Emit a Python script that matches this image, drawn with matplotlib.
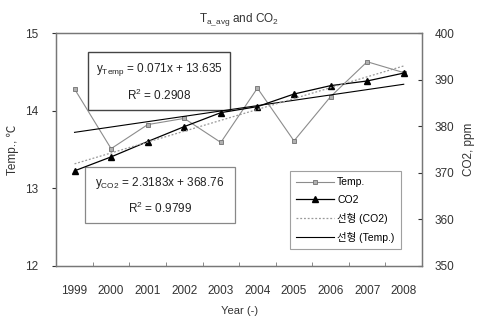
import numpy as np
import matplotlib
matplotlib.use("Agg")
import matplotlib.pyplot as plt
from matplotlib.patches import Rectangle

plt.rcParams['font.family'] = ['Liberation Sans', 'Noto Sans CJK KR', 'DejaVu Sans']
plt.rcParams['axes.unicode_minus'] = False
plt.rcParams['mathtext.default'] = 'regular'

years = [1999, 2000, 2001, 2002, 2003, 2004, 2005, 2006, 2007, 2008]
temp = [14.28, 13.51, 13.82, 13.90, 13.59, 14.29, 13.61, 14.18, 14.63, 14.49]
co2 = [370.4, 373.4, 376.7, 379.9, 382.9, 384.2, 386.9, 388.7, 389.7, 391.4]

x = np.arange(1, len(years) + 1)
t_fit = np.polyfit(x, temp, 1)
c_fit = np.polyfit(x, co2, 1)

fig = plt.figure(figsize=(4.89, 3.27), dpi=100)
ax = fig.add_axes([0.115, 0.187, 0.748, 0.712])
ax2 = ax.twinx()

ax.plot(years, temp, color='#8c8c8c', lw=0.8, marker='s', ms=3.5,
        mfc='#b0b0b0', mec='#707070', mew=0.6, label='Temp.', zorder=3)
l_co2, = ax2.plot(years, co2, color='black', lw=0.9, marker='^', ms=3.8,
                  label='CO2')
l_cfit, = ax2.plot(years, np.polyval(c_fit, x), color='#999999', lw=0.9,
                   ls=(0, (1.5, 1.5)), label='선형 (CO2)')
ax.plot(years, np.polyval(t_fit, x), color='black', lw=0.8, label='선형 (Temp.)', zorder=3)

ax.set_xlim(1998.5, 2008.5)
ax.set_ylim(12, 15)
ax2.set_ylim(350, 400)
ax.set_yticks([12, 13, 14, 15])
ax2.set_yticks([350, 360, 370, 380, 390, 400])
ax.set_xticks(years)
ax.set_xticks(np.arange(1999.5, 2008.5, 1), minor=True)
ax.tick_params(axis='x', which='major', length=0, pad=14, labelsize=8.5, colors='#333333')
ax.tick_params(axis='x', which='minor', length=3, direction='in', color='#777777')
ax.tick_params(axis='y', length=3, direction='out', labelsize=8.5, colors='#333333', pad=10)
ax2.tick_params(axis='y', length=3, direction='in', labelsize=8.5, colors='#333333', pad=9)

for a in (ax, ax2):
    for s in a.spines.values():
        s.set_color('#777777')
        s.set_linewidth(0.9)

ax.set_xlabel('Year (-)', fontsize=8, color='#333333', labelpad=6)
ax.set_ylabel('Temp., ℃', fontsize=8.5, color='#333333', labelpad=4)
ax2.set_ylabel('CO2, ppm', fontsize=8.5, color='#333333', rotation=90, labelpad=6)
ax.set_title(r'T$_{a\_avg}$ and CO$_2$', fontsize=8.5, color='#333333', pad=8)

# equation boxes
ax.add_patch(Rectangle((0.087, 0.670), 0.388, 0.248, transform=ax.transAxes,
                       fc='white', ec='#444444', lw=1.0, zorder=2))
ax.text(0.281, 0.843, r'$y_{Temp}$ = 0.071x + 13.635', transform=ax.transAxes,
        ha='center', va='center', fontsize=8.5, color='#222222', zorder=2.5)
ax.text(0.281, 0.732, r'R$^2$ = 0.2908', transform=ax.transAxes,
        ha='center', va='center', fontsize=8.5, color='#222222', zorder=2.5)

ax.add_patch(Rectangle((0.079, 0.185), 0.410, 0.240, transform=ax.transAxes,
                       fc='white', ec='#888888', lw=0.9, zorder=2))
ax.text(0.284, 0.356, r'$y_{CO2}$ = 2.3183x + 368.76', transform=ax.transAxes,
        ha='center', va='center', fontsize=8.5, color='#222222', zorder=2.5)
ax.text(0.284, 0.245, r'R$^2$ = 0.9799', transform=ax.transAxes,
        ha='center', va='center', fontsize=8.5, color='#222222', zorder=2.5)

h1, lab1 = ax.get_legend_handles_labels()
handles = [h1[0], l_co2, l_cfit, h1[1]]
labels = ['Temp.', 'CO2', '선형 (CO2)', '선형 (Temp.)']
leg = ax2.legend(handles, labels, loc='lower right', bbox_to_anchor=(0.956, 0.05),
                 fontsize=7.5, frameon=True, fancybox=False, edgecolor='#888888',
                 handlelength=3.6, labelspacing=0.75, borderpad=0.6, handletextpad=0.3)
leg.get_frame().set_linewidth(0.8)

fig.savefig('out.png', dpi=100)
